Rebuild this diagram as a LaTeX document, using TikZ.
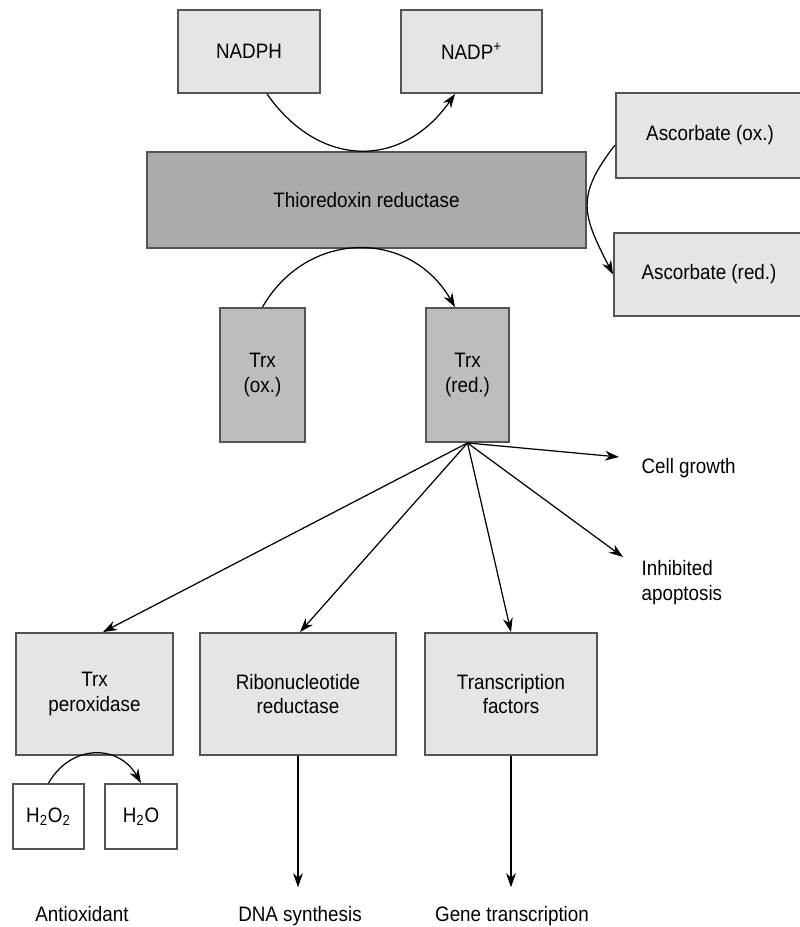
\documentclass[tikz,border=0pt]{standalone}
\usepackage{fontspec}
\setmainfont{Liberation Sans}[FakeStretch=0.9]
\usetikzlibrary{arrows.meta}
\definecolor{fillLight}{rgb}{0.90,0.90,0.90}
\definecolor{fillMid}{rgb}{0.74,0.74,0.74}
\definecolor{fillDark}{rgb}{0.67,0.67,0.67}
\definecolor{edge}{rgb}{0.33,0.33,0.33}

\begin{document}
\begin{tikzpicture}[x=0.02cm, y=-0.02cm, >={Stealth[length=8pt,width=5.6pt]}, line width=0.7pt,
  font=\fontsize{11.9}{14.2}\selectfont,
  box/.style={draw=edge, line width=1.1pt, inner sep=0pt, align=center},
  lightbox/.style={box, fill=fillLight},
  midbox/.style={box, fill=fillMid},
  darkbox/.style={box, fill=fillDark},
  whitebox/.style={box, fill=white},
  effect/.style={inner sep=0pt, anchor=base}]
\useasboundingbox (0,0) rectangle (799,927);
% ---------- top: cofactors and the reductase ----------
\node[lightbox, minimum width=2.84cm, minimum height=1.66cm] (nadph) at (249,51.5) {NADPH};
\node[lightbox, minimum width=2.82cm, minimum height=1.66cm] (nadpp) at (471.5,51.5) {NADP\textsuperscript{+}};
\node[darkbox, minimum width=8.78cm, minimum height=1.92cm] (trr) at (366.5,200) {Thioredoxin reductase};
\node[lightbox, minimum width=3.76cm, minimum height=1.70cm] (ascox) at (710,135.5) {Ascorbate (ox.)};
\node[lightbox, minimum width=3.80cm, minimum height=1.66cm] (ascred) at (709,274.5) {Ascorbate (red.)};
\draw[->] ([xshift=0.36cm]nadph.south) to[out=-55, in=-125, looseness=1.25] ([xshift=-0.33cm]nadpp.south);
\draw[->] ([yshift=-0.19cm]ascox.west) to[out=-128, in=117, looseness=1.3] (ascred.west);
% ---------- thioredoxin pair ----------
\node[midbox, minimum width=1.70cm, minimum height=2.68cm] (trxox) at (262.5,375) {Trx\\(ox.)};
\node[midbox, minimum width=1.66cm, minimum height=2.68cm] (trxred) at (467.5,375) {Trx\\(red.)};
\draw[->] (trxox.north) to[out=60, in=120, looseness=1.2] ([xshift=-0.25cm]trxred.north);
% ---------- targets of reduced Trx ----------
\node[lightbox, minimum width=3.14cm, minimum height=2.44cm] (perox) at (94.5,694) {Trx\\peroxidase};
\node[lightbox, minimum width=3.92cm, minimum height=2.44cm] (ribo) at (298,694) {Ribonucleotide\\reductase};
\node[lightbox, minimum width=3.44cm, minimum height=2.44cm] (tfac) at (511,694) {Transcription\\factors};
\node[effect, anchor=base west] (growth) at (641,473) {Cell growth};
\node[effect, anchor=north west, align=left] (apopt) at (641,560) {Inhibited\\apoptosis};
\coordinate (growthtip) at (619,457);
\coordinate (apopttip) at (623,557);
\draw[->] (trxred.south) -- (growthtip);
\draw[->] (trxred.south) -- (apopttip);
\draw[->] (trxred.south) -- ([xshift=0.17cm]perox.north);
\draw[->] (trxred.south) -- ([xshift=0.04cm]ribo.north);
\draw[->] (trxred.south) -- (tfac.north);
% ---------- peroxide step ----------
\node[whitebox, minimum width=1.42cm, minimum height=1.30cm] (hperox) at (48.5,816.5) {H\textsubscript{2}O\textsubscript{2}};
\node[whitebox, minimum width=1.44cm, minimum height=1.30cm] (water) at (141,816.5) {H\textsubscript{2}O};
\draw[->] (hperox.north) to[out=60, in=120, looseness=1.25] (water.north);
% ---------- outcomes ----------
\node[effect] (antiox) at (82,921) {Antioxidant};
\node[effect] (dnasyn) at (300,921) {DNA synthesis};
\node[effect] (genetx) at (512,921) {Gene transcription};
\draw[->, shorten >=0.36cm] (ribo.south) -- (ribo.south |- dnasyn.north);
\draw[->, shorten >=0.36cm] (tfac.south) -- (tfac.south |- genetx.north);
\end{tikzpicture}
\end{document}
